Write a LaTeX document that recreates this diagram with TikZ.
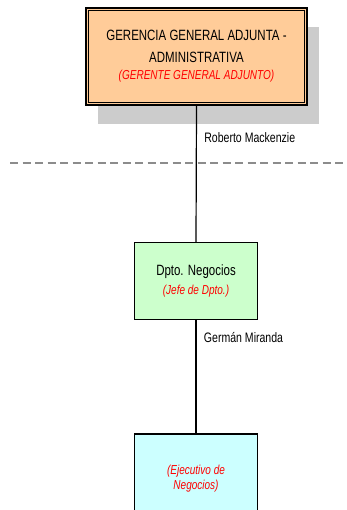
\documentclass[tikz,border=0pt]{standalone}
\usepackage{fontspec}
\setmainfont[FakeStretch=0.77]{Liberation Sans}
\usepackage{tikz}
\usetikzlibrary{calc,shadows}

\definecolor{peach}{HTML}{FFCC99}
\definecolor{mint}{HTML}{CCFFCC}
\definecolor{icecyan}{HTML}{CCFFFF}
\definecolor{shadowgray}{HTML}{CCCCCC}
\newcommand{\cargo}[1]{{\fontsize{13}{17}\selectfont\itshape\color{red}#1}}

\begin{document}
\begin{tikzpicture}[x=1pt, y=1pt,
    unitbox/.style={draw, line width=1.4pt, align=center,
      font=\fontsize{14.9}{22}\selectfont, inner sep=2pt},
    link/.style={line width=1.2pt},
    person/.style={anchor=west, font=\fontsize{13.7}{15}\selectfont, xshift=4pt}]
  \useasboundingbox (0,0) rectangle (346,510);
  \clip (0,0) rectangle (346,510);
  % Divider between levels
  \draw[line width=2pt, black!45, dash pattern=on 8pt off 4.5pt] (10,347) -- (343,347);
  % Head office box with shadow and double frame
  \node[unitbox, fill=peach, line width=2.4pt, minimum width=221pt, minimum height=97pt,
        drop shadow={shadow xshift=12pt, shadow yshift=-19pt, fill=shadowgray, opacity=1}]
    (gerencia) at (196.5,453.5)
    {GERENCIA GENERAL ADJUNTA -\\ADMINISTRATIVA\\[-5pt]\cargo{(GERENTE GENERAL ADJUNTO)}};
  \draw[line width=0.8pt] ($(gerencia.north west)+(3.5,-3.5)$) rectangle ($(gerencia.south east)+(-3.5,3.5)$);
  % Department
  \node[unitbox, fill=mint, minimum width=123pt, minimum height=77pt]
    (negocios) at (196,229) {Dpto. Negocios\\[-3pt]\cargo{(Jefe de Dpto.)}};
  % Executive, runs off the page
  \node[unitbox, fill=icecyan, minimum width=123pt, minimum height=90pt]
    (ejecutivo) at (196,31) {\cargo{(Ejecutivo de}\\[-7pt]\cargo{Negocios)}};
  % Reporting lines
  \draw[link] (gerencia.south) -- (negocios.north) node[person, pos=0.23] {Roberto Mackenzie};
  \draw[link] (negocios.south) -- (ejecutivo.north) node[person, pos=0.15] {Germán Miranda};
\end{tikzpicture}
\end{document}
